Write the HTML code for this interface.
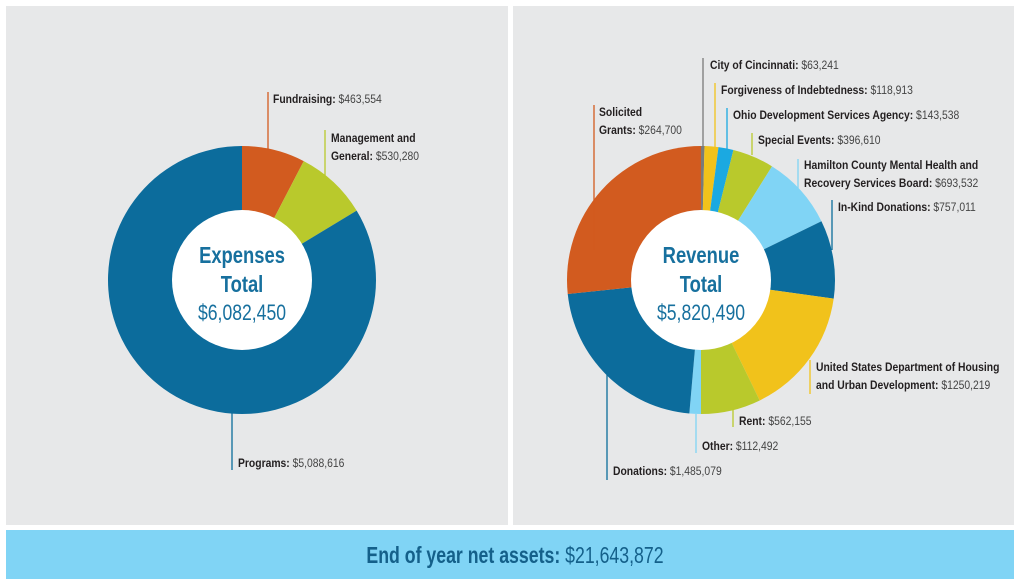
<!DOCTYPE html>
<html><head><meta charset="utf-8"><style>
body{margin:0;background:#fff;width:1020px;height:586px;overflow:hidden;font-family:"Liberation Sans",sans-serif}
svg{position:absolute;left:0;top:0}
</style></head><body>
<svg id="c" width="1020" height="586">
<rect x="6" y="6" width="502" height="519" fill="#e7e8e9"/>
<rect x="513" y="6" width="501" height="519" fill="#e7e8e9"/>
<rect x="6" y="530" width="1008" height="49" fill="#80d4f5"/>
<text transform="translate(515,563) scale(0.77,1)" text-anchor="middle" font-size="23" fill="#14608a"><tspan font-weight="bold">End of year net assets:</tspan><tspan> $21,643,872</tspan></text>
</svg>
<script>
const expCategories=["Fundraising","Management and General","Programs"];
const expValues=[463554,530280,5088616];
const expLabels=["$463,554","$530,280","$5,088,616"];
const revCategories=["City of Cincinnati","Forgiveness of Indebtedness","Ohio Development Services Agency","Special Events","Hamilton County Mental Health and Recovery Services Board","In-Kind Donations","United States Department of Housing and Urban Development","Rent","Other","Donations","Solicited Grants"];
const revShares=[1.5,6,6.5,18,32,34,56,26,5,79,96];
const revLabels=["$63,241","$118,913","$143,538","$396,610","$693,532","$757,011","$1250,219","$562,155","$112,492","$1,485,079","$264,700"];

const NS="http://www.w3.org/2000/svg";
const svg=document.getElementById('c');
function mk(t,a,parent){const e=document.createElementNS(NS,t);for(const k in a)e.setAttribute(k,a[k]);(parent||svg).appendChild(e);return e;}
function pt(cx,cy,r,a){const t=a*Math.PI/180;return [cx+r*Math.sin(t),cy-r*Math.cos(t)];}
function arc(cx,cy,r0,r1,a0,a1){
  const large=(a1-a0)>180?1:0;
  const p0=pt(cx,cy,r1,a0),p1=pt(cx,cy,r1,a1);
  return `M${cx},${cy}L${p0}A${r1},${r1} 0 ${large} 1 ${p1}Z`;
}
function donut(cx,cy,vals,colors,names){
  const tot=vals.reduce((a,b)=>a+b,0);let a=0;
  vals.forEach((v,i)=>{const a1=a+v/tot*360;
    const p=mk('path',{d:arc(cx,cy,0,134,a,a1),fill:colors[i]});
    
    
    a=a1;});
  const c=mk('circle',{cx:cx,cy:cy,r:70,fill:'#fff'});
  
  
}
function label(x,y1,y2,color,tx,ty,lines,name){
  mk('line',{x1:x,y1:y1,x2:x,y2:y2,stroke:color,'stroke-width':1.3});
  lines.forEach((ln,i)=>{
    const t=mk('text',{transform:`translate(${tx},${ty+i*18}) scale(0.9,1)`,'font-size':11.5,fill:'#231f20'});
    
    
    const b=mk('tspan',{'font-weight':'bold'},t);b.textContent=ln[0];
    if(ln[1]){const s=mk('tspan',{fill:'#444'},t);s.textContent=ln[1];}
  });
}
donut(242,280,expValues,['#d25b1f','#b9c92c','#0c6c9c'],['slice-fundraising','slice-management','slice-programs']);
donut(701,280,revShares,['#7a7a7a','#f1c21b','#1ba9e1','#b9c92c','#80d4f5','#0c6c9c','#f1c21b','#b9c92c','#80d4f5','#0c6c9c','#d25b1f'],
 revCategories.map(c=>'slice-'+c.toLowerCase().replace(/[^a-z]+/g,'-')));

function center(cx,l1,l2,val,name){
  [[l1,263],[l2,292]].forEach(([s,y])=>{const t=mk('text',{transform:`translate(${cx},${y}) scale(0.8,1)`,'text-anchor':'middle','font-size':23,'font-weight':'bold',fill:'#17709e'});t.textContent=s;
    
    });
  const t=mk('text',{transform:`translate(${cx},${320}) scale(0.8,1)`,'text-anchor':'middle','font-size':22,fill:'#17709e'});t.textContent=val;
  
  
}
center(242,'Expenses','Total','$6,082,450','expenses');
center(701,'Revenue','Total','$5,820,490','revenue');

label(268,92,150,'#d25b1f',273,103,[[expCategories[0]+': ',expLabels[0]]],'fundraising');
label(325,130,182,'#b9c92c',331,142,[['Management and'],['General: ',expLabels[1]]],'management');
label(232,410,470,'#0c6c9c',238,467,[[expCategories[2]+': ',expLabels[2]]],'programs');

label(703,58,158,'#7a7a7a',710,69,[[revCategories[0]+': ',revLabels[0]]],'city');
label(715,83,150,'#f1c21b',721,94,[[revCategories[1]+': ',revLabels[1]]],'forgiveness');
label(727,108,150,'#1ba9e1',733,119,[[revCategories[2]+': ',revLabels[2]]],'ohio');
label(752,133,155,'#b9c92c',758,144,[[revCategories[3]+': ',revLabels[3]]],'special-events');
label(798,159,190,'#80d4f5',804,169,[['Hamilton County Mental Health and'],['Recovery Services Board: ',revLabels[4]]],'hamilton');
label(832,200,250,'#0c6c9c',838,211,[[revCategories[5]+': ',revLabels[5]]],'in-kind');
label(810,360,394,'#f1c21b',816,371,[['United States Department of Housing'],['and Urban Development: ',revLabels[6]]],'hud');
label(733,405,427,'#b9c92c',739,425,[[revCategories[7]+': ',revLabels[7]]],'rent');
label(696,414,453,'#80d4f5',702,450,[[revCategories[8]+': ',revLabels[8]]],'other');
label(607,375,480,'#0c6c9c',613,475,[[revCategories[9]+': ',revLabels[9]]],'donations');
label(594,105,250,'#d25b1f',599,116,[['Solicited'],['Grants: ',revLabels[10]]],'solicited-grants');
</script>
</body></html>
